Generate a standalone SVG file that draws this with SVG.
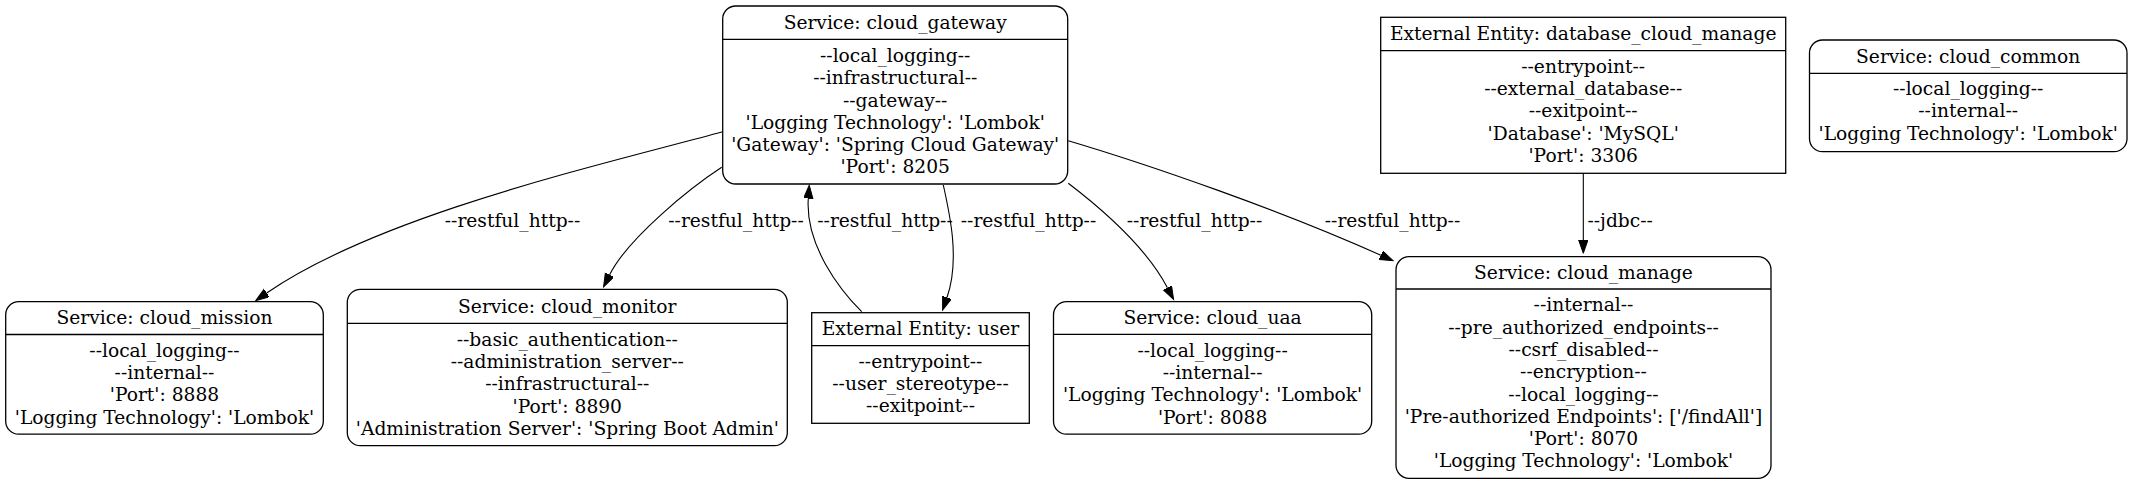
<svg xmlns="http://www.w3.org/2000/svg" width="2132" height="485" viewBox="0 0 2132 485">
<style>
text{font-family:"DejaVu Serif","Liberation Serif",serif;font-size:18.67px;fill:#000;text-anchor:middle}
.box{fill:#fff;stroke:#000;stroke-width:1.3}
.sep{stroke:#000;stroke-width:1.3}
.edge{fill:none;stroke:#000;stroke-width:1.1;marker-end:url(#arr)}
</style>
<defs>
<marker id="arr" markerUnits="userSpaceOnUse" markerWidth="15" markerHeight="11" refX="0" refY="4.67" orient="auto">
<path d="M0,0 L13.3,4.67 L0,9.33 Z" fill="#000" stroke="#000" stroke-width="1"/>
</marker>
</defs>
<rect width="2132" height="485" fill="#fff"/>
<g id="connectors">
<path class="edge" d="M722.7,131.7 C600,165 380,215 266.7,293"/>
<path class="edge" d="M721.7,167.3 C690,188 628,238 609.5,275"/>
<path class="edge" d="M861.7,311.7 C840,290 805,245 808.3,198.5"/>
<path class="edge" d="M943.3,185 C950,215 960,260 947,297.5"/>
<path class="edge" d="M1068.3,183.3 C1098,206 1145,245 1167.4,287.7"/>
<path class="edge" d="M1068.3,140.7 C1150,165 1280,210 1380.9,255.3"/>
<path class="edge" d="M1583.3,173.3 L1583.3,240"/>
<text x="512.5" y="226.7">--restful_http--</text>
<text x="736" y="226.7">--restful_http--</text>
<text x="885" y="226.7">--restful_http--</text>
<text x="1028.5" y="226.7">--restful_http--</text>
<text x="1194.5" y="226.7">--restful_http--</text>
<text x="1392.5" y="226.7">--restful_http--</text>
<text x="1620.2" y="226.7">--jdbc--</text>
</g>
<g id="cloud_gateway">
<rect class="box" x="722.7" y="6" width="345" height="178" rx="13"/>
<line class="sep" x1="722.7" y1="39.3" x2="1067.7" y2="39.3"/>
<text x="895.2" y="29.3">Service: cloud_gateway</text>
<text x="895.2" y="62.2">--local_logging--</text>
<text x="895.2" y="84.4">--infrastructural--</text>
<text x="895.2" y="106.6">--gateway--</text>
<text x="895.2" y="128.8">'Logging Technology': 'Lombok'</text>
<text x="895.2" y="151">'Gateway': 'Spring Cloud Gateway'</text>
<text x="895.2" y="173.2">'Port': 8205</text>
</g>
<g id="database_cloud_manage">
<rect class="box" x="1380.7" y="17.3" width="405" height="156"/>
<line class="sep" x1="1380.7" y1="50.7" x2="1785.7" y2="50.7"/>
<text x="1583.2" y="40">External Entity: database_cloud_manage</text>
<text x="1583.2" y="72.7">--entrypoint--</text>
<text x="1583.2" y="95">--external_database--</text>
<text x="1583.2" y="117.3">--exitpoint--</text>
<text x="1583.2" y="139.6">'Database': 'MySQL'</text>
<text x="1583.2" y="161.9">'Port': 3306</text>
</g>
<g id="cloud_common">
<rect class="box" x="1809.5" y="40" width="317.5" height="111.7" rx="13"/>
<line class="sep" x1="1809.5" y1="73.3" x2="2127" y2="73.3"/>
<text x="1968.2" y="62.7">Service: cloud_common</text>
<text x="1968.2" y="95">--local_logging--</text>
<text x="1968.2" y="117.3">--internal--</text>
<text x="1968.2" y="139.6">'Logging Technology': 'Lombok'</text>
</g>
<g id="cloud_mission">
<rect class="box" x="5.7" y="301.7" width="317.6" height="132.5" rx="13"/>
<line class="sep" x1="5.7" y1="334.5" x2="323.3" y2="334.5"/>
<text x="164.5" y="324.2">Service: cloud_mission</text>
<text x="164.5" y="356.8">--local_logging--</text>
<text x="164.5" y="379.1">--internal--</text>
<text x="164.5" y="401.4">'Port': 8888</text>
<text x="164.5" y="423.7">'Logging Technology': 'Lombok'</text>
</g>
<g id="cloud_monitor">
<rect class="box" x="347.3" y="289.3" width="440" height="156.4" rx="13"/>
<line class="sep" x1="347.3" y1="323.3" x2="787.3" y2="323.3"/>
<text x="567.3" y="313">Service: cloud_monitor</text>
<text x="567.3" y="345.6">--basic_authentication--</text>
<text x="567.3" y="367.9">--administration_server--</text>
<text x="567.3" y="390.2">--infrastructural--</text>
<text x="567.3" y="412.5">'Port': 8890</text>
<text x="567.3" y="434.8">'Administration Server': 'Spring Boot Admin'</text>
</g>
<g id="user">
<rect class="box" x="811.7" y="312.7" width="217.6" height="110.6"/>
<line class="sep" x1="811.7" y1="345.7" x2="1029.3" y2="345.7"/>
<text x="920.5" y="335">External Entity: user</text>
<text x="920.5" y="367.5">--entrypoint--</text>
<text x="920.5" y="389.8">--user_stereotype--</text>
<text x="920.5" y="412.1">--exitpoint--</text>
</g>
<g id="cloud_uaa">
<rect class="box" x="1053.5" y="301.7" width="318.2" height="132.5" rx="13"/>
<line class="sep" x1="1053.5" y1="334.4" x2="1371.7" y2="334.4"/>
<text x="1212.6" y="324.2">Service: cloud_uaa</text>
<text x="1212.6" y="356.8">--local_logging--</text>
<text x="1212.6" y="379.1">--internal--</text>
<text x="1212.6" y="401.4">'Logging Technology': 'Lombok'</text>
<text x="1212.6" y="423.7">'Port': 8088</text>
</g>
<g id="cloud_manage">
<rect class="box" x="1396" y="256.7" width="375" height="221.6" rx="13"/>
<line class="sep" x1="1396" y1="289" x2="1771" y2="289"/>
<text x="1583.5" y="278.8">Service: cloud_manage</text>
<text x="1583.5" y="311.3">--internal--</text>
<text x="1583.5" y="333.6">--pre_authorized_endpoints--</text>
<text x="1583.5" y="355.9">--csrf_disabled--</text>
<text x="1583.5" y="378.2">--encryption--</text>
<text x="1583.5" y="400.5">--local_logging--</text>
<text x="1583.5" y="422.8">'Pre-authorized Endpoints': ['/findAll']</text>
<text x="1583.5" y="445.1">'Port': 8070</text>
<text x="1583.5" y="467.4">'Logging Technology': 'Lombok'</text>
</g>
</svg>
